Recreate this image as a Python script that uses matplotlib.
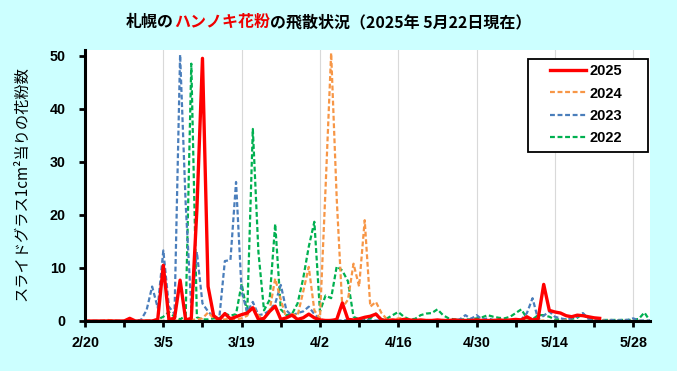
import numpy as np
import matplotlib
matplotlib.use("Agg")
import matplotlib.pyplot as plt
from matplotlib.patches import Rectangle
from matplotlib.ticker import FixedLocator

# ---- data (category index 0 = 2/20, leap-year calendar incl. 2/29, up to 5/31) ----
n_days = 102
tick_labels = ["2/20", "3/5", "3/19", "4/2", "4/16", "4/30", "5/14", "5/28"]
series_names = ["2025", "2024", "2023", "2022"]

y2025 = [
    0, 0, 0, 0, 0, 0, 0, 0, 0.5, 0,
    0, 0, 0, 0.3, 10.5, 0.3, 0.5, 7.7, 0.2, 0.5,
    21, 49.5, 6.5, 1.0, 0.2, 1.4, 0.4, 0.8, 1.2, 1.5,
    2.5, 0.3, 0.5, 1.8, 2.8, 0.3, 0.6, 1.1, 0.3, 0.6,
    1.3, 0.6, 0.2, 0.1, 0.1, 0.3, 3.4, 0.3, 0.2, 0.4,
    0.7, 0.9, 1.3, 0.2, 0.1, 0.2, 0.1, 0.3, 0.2, 0.1,
    0.2, 0.1, 0.1, 0.2, 0.1, 0.1, 0.2, 0.1, 0.1, 0.1,
    0.2, 0.1, 0.1, 0.1, 0.2, 0.1, 0.2, 0.3, 0.2, 0.8,
    0.2, 0.4, 6.9, 2.0, 1.7, 1.5, 1.0, 0.8, 1.1, 1.0,
    0.8, 0.6, 0.5]

y2024 = [
    0, 0, 0, 0, 0.2, 0.1, 0, 0, 0.1, 0,
    0, 0.1, 0, 0.1, 0, 0.2, 0.1, 0, 0.1, 0.2,
    0.3, 0.5, 1.6, 0.5, 0.3, 0.3, 0.5, 0.3, 0.5, 1.0,
    2.8, 1.0, 0.5, 2.0, 8.0, 4.0, 0.5, 1.3, 1.0, 5.5,
    10.2, 2.0, 0.5, 25, 50.5, 23, 2.5, 4.0, 10.8, 6.5,
    19.0, 2.7, 3.6, 1.5, 0.3, 0.1, 0.5, 0.5, 0.2, 0.1,
    0.1, 0, 0.1, 0, 0, 0.1, 0, 0, 0.1, 0,
    0, 0.1, 0, 0, 0, 0.1, 0, 0, 0, 0.1,
    0, 0, 0.1, 0, 0, 0, 0.1, 0, 0, 0,
    0, 0, 0, 0.1, 0, 0, 0, 0, 0, 0,
    0, 0]

y2023 = [
    0, 0, 0, 0, 0, 0, 0, 0, 0, 0.1,
    0.2, 2.0, 6.5, 2.5, 13.3, 2.7, 1.3, 50.2, 22, 2.5,
    13.0, 3.3, 1.8, 0.7, 0.5, 11.3, 11.5, 26.2, 5.5, 1.7,
    3.6, 1.1, 1.3, 2.0, 3.3, 6.8, 2.0, 1.0, 1.5, 1.8,
    2.7, 1.3, 0.3, 0.1, 0.2, 0.1, 0.1, 0.2, 0.1, 0.1,
    0.2, 0.1, 0.1, 0.1, 0.2, 0.1, 0.1, 0.2, 0.1, 0.1,
    0.1, 0.2, 0.1, 0.1, 0.2, 0.1, 0.2, 0.3, 1.1, 0.4,
    1.1, 0.3, 0.5, 0.2, 0.2, 0.2, 0.1, 0.2, 0.3, 1.5,
    4.3, 0.3, 1.0, 1.8, 0.8, 0.5, 0.3, 0.5, 0.8, 1.5,
    0.4, 0.2, 0.2, 0.1, 0.2, 0.1, 0.2, 0.2, 0.5, 0.1,
    0.1, 0.1]

y2022 = [
    0, 0, 0, 0, 0, 0, 0, 0, 0, 0,
    0, 0, 0.1, 0.3, 0.8, 1.7, 0.8, 0.3, 1.0, 48.5,
    0.7, 0.3, 0.3, 0.5, 0.5, 1.4, 1.0, 1.3, 7.0, 1.5,
    36.2, 13.0, 2.0, 4.0, 18.3, 2.2, 1.1, 1.3, 3.3, 8.0,
    14.0, 18.7, 1.8, 4.8, 4.3, 10.3, 9.5, 7.5, 0.8, 0.3,
    0.3, 0.5, 1.4, 0.3, 0.5, 1.1, 1.7, 0.8, 0.3, 0.4,
    1.1, 1.4, 1.5, 2.2, 1.1, 0.5, 0.3, 0.3, 0.3, 0.3,
    0.5, 0.7, 1.1, 0.8, 0.6, 0.5, 0.8, 1.5, 2.2, 0.5,
    0.3, 1.1, 1.1, 0.8, 0.3, 0.3, 0.3, 0.4, 0.6, 1.4,
    0.3, 0.2, 0.2, 0.2, 0.2, 0.2, 0.2, 0.2, 0.2, 0.4,
    1.6, 0]

# ---- style ----
BG = "#ccffff"
JP = ["Noto Sans CJK JP", "DejaVu Sans"]
NUM = ["Liberation Sans", "DejaVu Sans"]
W, H = 677, 371

fig = plt.figure(figsize=(6.77, 3.71), dpi=100, facecolor=BG)
ax = fig.add_axes([85 / W, 1 - 321 / H, 565 / W, (321 - 50.4) / H])
ax.set_facecolor("white")

x = np.arange(n_days)
dash = (0, (2.2, 1.2))
ax.plot(x, y2022, color="#00b050", lw=1.6, ls=dash, label=series_names[3], zorder=2)
ax.plot(x, y2023, color="#4a7ebb", lw=1.6, ls=dash, label=series_names[2], zorder=2)
ax.plot(x, y2024, color="#f79646", lw=1.6, ls=dash, label=series_names[1], zorder=2)
ax.plot(np.arange(len(y2025)), y2025, color="#ff0000", lw=2.4, ls="-", label=series_names[0], zorder=3)

ax.set_xlim(0, n_days - 1)
ax.set_ylim(0, 51)
major = list(range(0, n_days, 14))
ax.xaxis.set_major_locator(FixedLocator(major))
ax.xaxis.set_minor_locator(FixedLocator([m + 7 for m in major if m + 7 < n_days]))
ax.set_xticklabels(tick_labels)
ax.set_yticks(range(0, 51, 10))

for s in ("top", "right"):
    ax.spines[s].set_visible(False)
for s in ("left", "bottom"):
    ax.spines[s].set_linewidth(2.2)
    ax.spines[s].set_color("black")
    ax.spines[s].set_zorder(4)

ax.grid(axis="x", which="major", color="#d9d9d9", lw=0.8)
ax.tick_params(axis="both", which="both", direction="out", color="black", width=2, length=4)
ax.tick_params(axis="y", pad=10)
ax.tick_params(axis="x", pad=7)
for lab in ax.get_xticklabels() + ax.get_yticklabels():
    lab.set_fontfamily(NUM)
    lab.set_fontweight("bold")
    lab.set_fontsize(10.3)

# legend with custom frame
frame = Rectangle((528 / W, 1 - 152 / H), 120 / W, 93 / H, transform=fig.transFigure,
                  facecolor="white", edgecolor="black", lw=1.3, zorder=4, clip_on=False)
ax.add_patch(frame)
handles, labels = ax.get_legend_handles_labels()
order = [3, 2, 1, 0]
leg = ax.legend([handles[i] for i in order], [labels[i] for i in order],
                loc="upper left", bbox_to_anchor=(546 / W, 1 - 60 / H),
                bbox_transform=fig.transFigure, frameon=False, borderaxespad=0,
                prop={"family": NUM, "weight": "bold", "size": 10.5},
                handlelength=2.45, handletextpad=0.25, labelspacing=0.56, borderpad=0.3)
leg.set_zorder(5)

# y label
fig.text(22 / W, 1 - 184 / H, "スライドグラス1cm²当りの花粉数", rotation=90,
         ha="center", va="center", fontsize=11, family=JP)

# title with coloured part
renderer = fig.canvas.get_renderer()
pieces = [("札幌の", "black"), ("ハンノキ花粉", "#ee0000"), ("の飛散状況（2025年 5月22日現在）", "black")]
tx = 126 / W
for s, c in pieces:
    t = fig.text(tx, 1 - 22 / H, s, color=c, ha="left", va="center", fontsize=11.5,
                 family=JP, fontweight="bold")
    bb = t.get_window_extent(renderer)
    tx += bb.width / fig.bbox.width

fig.savefig("out.png", dpi=100, facecolor=BG)
